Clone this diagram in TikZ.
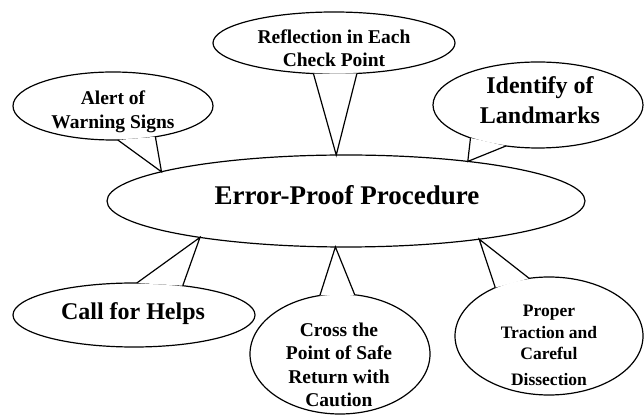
\documentclass[tikz,border=0pt]{standalone}
\usepackage{fontspec}
\setmainfont{Liberation Serif}
\usetikzlibrary{shapes.geometric}

\begin{document}
\begin{tikzpicture}[x=1pt,y=1pt,line width=1.2pt,
    bubble/.style={draw,ellipse,inner sep=0pt,outer sep=0pt,fill=white},
    boldtext/.style={align=center,font=\bfseries\fontsize{19.5}{23.5}\selectfont},
    bigtext/.style={align=center,font=\bfseries\fontsize{24}{30}\selectfont}]
  \useasboundingbox (0,0) rectangle (644,417);
  % centre
  \node[bubble,minimum width=478pt,minimum height=92pt] (proc) at (346,216) {};
  \node[font=\bfseries\fontsize{27}{32}\selectfont] (proctext) at (347,222) {Error-Proof Procedure};
  % callouts
  \node[bubble,minimum width=200pt,minimum height=68pt] (alert) at (113,311) {};
  \node[boldtext] (alerttext) at (113,305) {Alert of\\Warning Signs};
  \node[bubble,minimum width=242pt,minimum height=62pt] (reflect) at (334,374) {};
  \node[boldtext] (reflecttext) at (334,369) {Reflection in Each\\Check Point};
  \node[bubble,minimum width=210pt,minimum height=86pt] (landmarks) at (538,312) {};
  \node[bigtext] (landmarkstext) at (540,317) {Identify of\\Landmarks};
  \node[bubble,minimum width=242pt,minimum height=64pt] (helps) at (134,102) {};
  \node[bigtext] (helpstext) at (133,103.5) {Call for Helps};
  \node[bubble,minimum width=180pt,minimum height=120pt] (cross) at (340,63) {};
  \node[boldtext] (crosstext) at (339,52) {Cross the\\Point of Safe\\Return with\\Caution};
  \node[bubble,minimum width=188pt,minimum height=118pt] (traction) at (549,81) {};
  \node[boldtext,font=\bfseries\fontsize{17.5}{21.5}\selectfont] (tractiontext) at (549,71.5) {Proper\\Traction and\\Careful\\[4.5pt]Dissection};
  % pointers
  \foreach \bub/\a/\tip/\b in {alert/278/171/324, reflect/236/102/307, landmarks/206/18/232,
      helps/85/194/31, cross/109/257/76, traction/138/344/109} {
    \fill[white] (\bub.\a) -- (proc.\tip) -- (\bub.\b) -- cycle;
    \draw (\bub.\a) -- (proc.\tip) -- (\bub.\b);
  }
\end{tikzpicture}
\end{document}
